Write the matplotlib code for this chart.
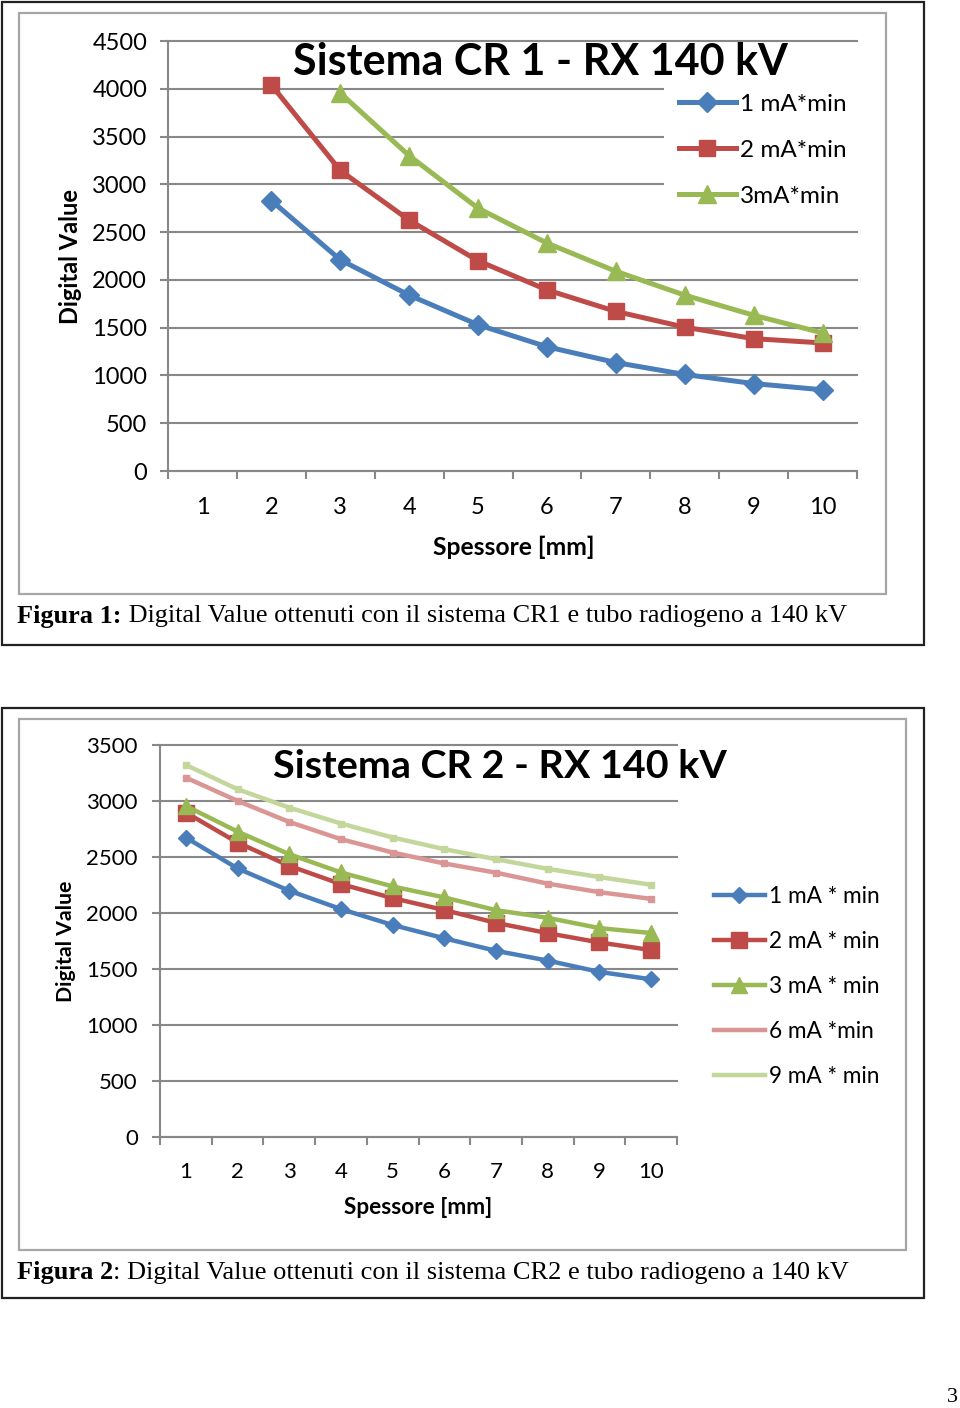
import numpy as np
import matplotlib
matplotlib.use('Agg')
import matplotlib.pyplot as plt
from matplotlib.patches import Rectangle

# ---------------- data ----------------
spessore = [1, 2, 3, 4, 5, 6, 7, 8, 9, 10]
x_labels = ['1', '2', '3', '4', '5', '6', '7', '8', '9', '10']

# Figura 1 - Sistema CR 1
cr1_labels = ['1 mA*min', '2 mA*min', '3mA*min']
cr1_1mA = [np.nan, 2830, 2210, 1840, 1530, 1300, 1135, 1010, 915, 850]
cr1_2mA = [np.nan, 4040, 3145, 2625, 2200, 1895, 1670, 1505, 1385, 1340]
cr1_3mA = [np.nan, np.nan, 3955, 3300, 2750, 2385, 2090, 1840, 1630, 1445]

# Figura 2 - Sistema CR 2
cr2_labels = ['1 mA * min', '2 mA * min', '3 mA * min', '6 mA *min', '9 mA * min']
cr2_1mA = [2674, 2398, 2199, 2035, 1893, 1774, 1662, 1575, 1474, 1408]
cr2_2mA = [2897, 2629, 2421, 2258, 2133, 2026, 1912, 1820, 1737, 1669]
cr2_3mA = [2956, 2727, 2525, 2362, 2237, 2139, 2025, 1957, 1865, 1821]
cr2_6mA = [3209, 3001, 2813, 2659, 2540, 2442, 2360, 2262, 2186, 2126]
cr2_9mA = [3322, 3105, 2941, 2799, 2674, 2570, 2480, 2394, 2321, 2252]

title1 = 'Sistema CR 1 - RX 140 kV'
title2 = 'Sistema CR 2 - RX 140 kV'
xlabel = 'Spessore [mm]'
ylabel = 'Digital Value'
cap1_bold, cap1_rest = 'Figura 1:', ' Digital Value ottenuti con il sistema CR1 e tubo radiogeno a 140 kV'
cap2_bold, cap2_rest = 'Figura 2', ': Digital Value ottenuti con il sistema CR2 e tubo radiogeno a 140 kV'

# ---------------- style ----------------
SANS = ['Lato', 'DejaVu Sans']
SERIF = ['Liberation Serif', 'DejaVu Serif']
plt.rcParams['font.family'] = SANS
BLUE = '#4A7EBB'
RED = '#BE4B48'
GREEN = '#98B954'
PINK = '#D99694'
LGREEN = '#C3D69B'
GRID = '#888888'
FRAME_GREY = '#A6A6A6'

W, H = 960, 1408
fig = plt.figure(figsize=(W / 100, H / 100), dpi=100)
renderer = fig.canvas.get_renderer()


def fx(x):
    return x / W


def fy(y):
    return 1 - y / H


def px_rect(l, t, r, b):
    return [l / W, 1 - b / H, (r - l) / W, (b - t) / H]


def frame(l, t, r, b, color, lw):
    fig.patches.append(Rectangle((l / W, 1 - b / H), (r - l) / W, (b - t) / H,
                                 transform=fig.transFigure, fill=False,
                                 edgecolor=color, linewidth=lw, zorder=0))


def fit(txt, target, dim='w'):
    bb = txt.get_window_extent(renderer)
    cur = bb.width if dim == 'w' else bb.height
    txt.set_fontsize(txt.get_fontsize() * target / cur)


def setup_axes(rect, ymax, fs, ypad, xpad):
    ax = fig.add_axes(px_rect(*rect))
    ax.set_xlim(0.5, 10.5)
    ax.set_ylim(0, ymax)
    ax.set_yticks(np.arange(0, ymax + 1, 500))
    ax.yaxis.grid(True, color=GRID, linewidth=1.5)
    for gl in ax.get_ygridlines():
        gl.set_clip_on(False)
    ax.set_axisbelow(True)
    ax.set_xticks(np.arange(0.5, 11, 1))
    ax.set_xticklabels([])
    ax.set_xticks(spessore, minor=True)
    ax.set_xticklabels(x_labels, minor=True)
    ax.tick_params(axis='x', which='major', direction='out', length=6, width=1.5, color=GRID)
    ax.tick_params(axis='x', which='minor', length=0, pad=xpad, labelsize=fs)
    ax.tick_params(axis='y', direction='out', length=6, width=1.5, color=GRID,
                   pad=ypad, labelsize=fs)
    for s in ['top', 'right']:
        ax.spines[s].set_visible(False)
    for s in ['left', 'bottom']:
        ax.spines[s].set_color(GRID)
        ax.spines[s].set_linewidth(1.5)
    ax.patch.set_alpha(0)
    return ax


# ---------------- frames ----------------
frame(2, 2, 924, 645, '#222222', 1.6)
frame(19, 13, 886, 594, FRAME_GREY, 1.6)
frame(2, 708, 924, 1298, '#222222', 1.6)
frame(19, 719, 906, 1250, FRAME_GREY, 1.6)

# ---------------- chart 1 ----------------
ax1 = setup_axes((168, 41, 857, 471), 4500, 17, 9, 19)
lw1 = 3.6
ax1.plot(spessore, cr1_1mA, color=BLUE, lw=lw1, marker='D', ms=10, label=cr1_labels[0])
ax1.plot(spessore, cr1_2mA, color=RED, lw=lw1, marker='s', ms=12, label=cr1_labels[1])
ax1.plot(spessore, cr1_3mA, color=GREEN, lw=lw1, marker='^', ms=13, label=cr1_labels[2])
leg1 = ax1.legend(loc='upper left', bbox_to_anchor=(fx(664), fy(79)),
                  bbox_transform=fig.transFigure, frameon=True, facecolor='white',
                  edgecolor='none', framealpha=1, fancybox=False, fontsize=17.5,
                  handlelength=2.35, handletextpad=0.16, labelspacing=1.03,
                  borderpad=0.6, borderaxespad=0, numpoints=1)

t = fig.text(fx(540), fy(62), title1, ha='center', va='center', fontweight='bold', fontsize=30)
fit(t, 493)
t = fig.text(fx(514), fy(547), xlabel, ha='center', va='center', fontweight='bold', fontsize=15)
fit(t, 162)
t = fig.text(fx(70), fy(257), ylabel, ha='center', va='center', fontweight='bold',
             fontsize=15, rotation=90)
fit(t, 135, 'h')

# ---------------- chart 2 ----------------
ax2 = setup_axes((160, 745, 677, 1137), 3500, 16, 10, 18)
lw2 = 3.2
ax2.plot(spessore, cr2_1mA, color=BLUE, lw=lw2, marker='D', ms=8.5, label=cr2_labels[0])
ax2.plot(spessore, cr2_2mA, color=RED, lw=lw2, marker='s', ms=11, label=cr2_labels[1])
ax2.plot(spessore, cr2_3mA, color=GREEN, lw=lw2, marker='^', ms=12, label=cr2_labels[2])
ax2.plot(spessore, cr2_6mA, color=PINK, lw=lw2, label=cr2_labels[3])
ax2.plot(spessore, cr2_9mA, color=LGREEN, lw=lw2, label=cr2_labels[4])
ax2.plot(spessore, cr2_6mA, color=PINK, lw=0, marker='s', ms=5, label='_nolegend_')
ax2.plot(spessore, cr2_9mA, color=LGREEN, lw=0, marker='s', ms=5, label='_nolegend_')
leg2 = ax2.legend(loc='upper left', bbox_to_anchor=(fx(714), fy(886)),
                  bbox_transform=fig.transFigure, frameon=False, fontsize=16.3,
                  handlelength=2.25, handletextpad=0.18, labelspacing=1.06,
                  borderpad=0, borderaxespad=0, numpoints=1)

t = fig.text(fx(500), fy(766), title2, ha='center', va='center', fontweight='bold', fontsize=28)
fit(t, 454)
t = fig.text(fx(418), fy(1208), xlabel, ha='center', va='center', fontweight='bold', fontsize=14)
fit(t, 149)
t = fig.text(fx(66), fy(941), ylabel, ha='center', va='center', fontweight='bold',
             fontsize=14, rotation=90)
fit(t, 123, 'h')


# ---------------- captions ----------------
def caption(bold, rest, x0, yc, target):
    size = 16
    for _ in range(3):
        a = fig.text(fx(x0), fy(yc), bold, ha='left', va='center', family=SERIF,
                     fontweight='bold', fontsize=size)
        wa = a.get_window_extent(renderer).width
        b = fig.text(fx(x0 + wa), fy(yc), rest, ha='left', va='center', family=SERIF,
                     fontsize=size)
        wb = b.get_window_extent(renderer).width
        total = wa + wb
        if abs(total - target) < 1:
            return
        a.remove()
        b.remove()
        size *= target / total
    a = fig.text(fx(x0), fy(yc), bold, ha='left', va='center', family=SERIF,
                 fontweight='bold', fontsize=size)
    wa = a.get_window_extent(renderer).width
    fig.text(fx(x0 + wa), fy(yc), rest, ha='left', va='center', family=SERIF, fontsize=size)


caption(cap1_bold, cap1_rest, 17, 616, 831)
caption(cap2_bold, cap2_rest, 17, 1273, 831)

fig.text(fx(952), fy(1397), '3', ha='center', va='center', family=SERIF, fontsize=16)

fig.savefig('out.png', dpi=100)
